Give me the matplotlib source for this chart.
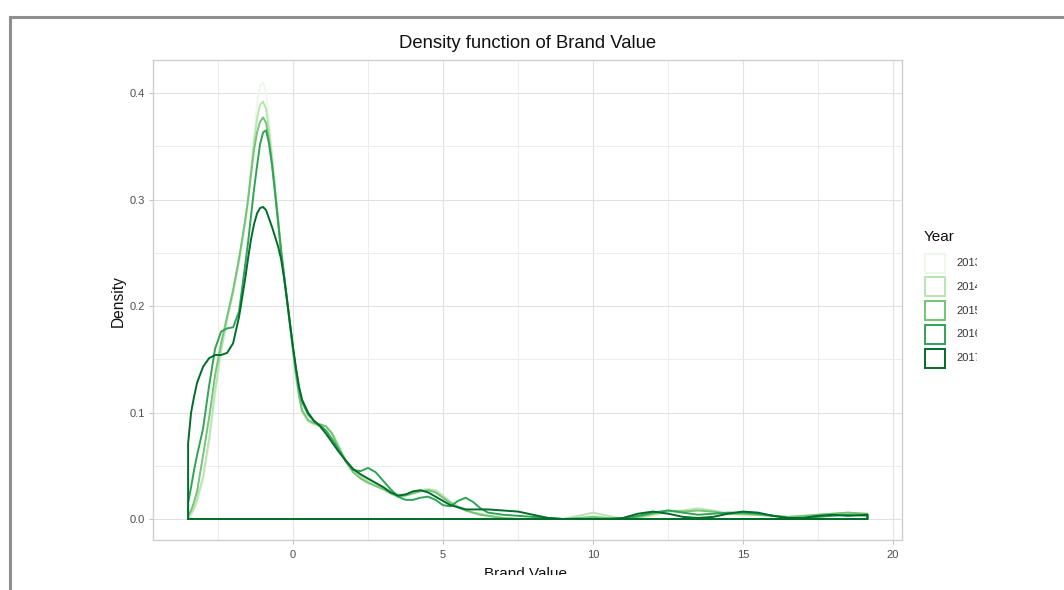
import matplotlib
matplotlib.use("Agg")
import matplotlib.pyplot as plt
from matplotlib.patches import Rectangle
from matplotlib.lines import Line2D
from matplotlib.ticker import MultipleLocator

plt.rcParams['font.family'] = ['Liberation Sans', 'DejaVu Sans']

# Estimated kernel density of brand value, per year, on a shared grid
brand_value = [
    -3.5, -3.4, -3.3, -3.2, -3.0, -2.8, -2.6, -2.4, -2.2, -2.0,
    -1.8, -1.6, -1.5, -1.4, -1.3, -1.2, -1.1, -1.0, -0.9, -0.8,
    -0.7, -0.6, -0.5, -0.4, -0.3, -0.2, -0.1, 0.0, 0.1, 0.2,
    0.3, 0.5, 0.7, 0.9, 1.1, 1.3, 1.5, 1.75, 2.0, 2.25,
    2.5, 2.75, 3.0, 3.25, 3.5, 3.75, 4.0, 4.25, 4.5, 4.75,
    5.0, 5.25, 5.5, 5.75, 6.0, 6.25, 6.5, 7.0, 7.5, 8.0,
    8.5, 9.0, 9.5, 10.0, 10.5, 11.0, 11.5, 12.0, 12.5, 13.0,
    13.5, 14.0, 14.5, 15.0, 15.5, 16.0, 16.5, 17.0, 17.5, 18.0,
    18.5, 19.15,
]

density_2013 = [
    0.000, 0.003, 0.008, 0.015, 0.035, 0.070, 0.115, 0.155, 0.185, 0.210,
    0.240, 0.275, 0.300, 0.330, 0.360, 0.390, 0.407, 0.410, 0.400, 0.375,
    0.345, 0.315, 0.285, 0.255, 0.228, 0.204, 0.180, 0.156, 0.133, 0.114,
    0.100, 0.091, 0.088, 0.087, 0.086, 0.080, 0.069, 0.055, 0.045, 0.039,
    0.035, 0.032, 0.029, 0.025, 0.022, 0.023, 0.025, 0.027, 0.028, 0.026,
    0.021, 0.016, 0.012, 0.009, 0.006, 0.004, 0.003, 0.001, 0.000, 0.000,
    0.000, 0.000, 0.002, 0.003, 0.001, 0.000, 0.001, 0.003, 0.005, 0.006,
    0.008, 0.006, 0.004, 0.003, 0.003, 0.002, 0.002, 0.002, 0.003, 0.004,
    0.005, 0.003,
]

density_2014 = [
    0.002, 0.005, 0.010, 0.018, 0.040, 0.075, 0.120, 0.158, 0.188, 0.213,
    0.243, 0.278, 0.300, 0.328, 0.355, 0.376, 0.389, 0.392, 0.385, 0.365,
    0.340, 0.311, 0.282, 0.253, 0.228, 0.204, 0.180, 0.157, 0.134, 0.115,
    0.101, 0.092, 0.089, 0.088, 0.087, 0.081, 0.070, 0.056, 0.046, 0.040,
    0.036, 0.033, 0.030, 0.026, 0.023, 0.023, 0.025, 0.027, 0.028, 0.027,
    0.022, 0.016, 0.012, 0.009, 0.006, 0.005, 0.003, 0.001, 0.000, 0.000,
    0.000, 0.000, 0.003, 0.006, 0.003, 0.000, 0.001, 0.004, 0.007, 0.008,
    0.010, 0.008, 0.005, 0.004, 0.004, 0.003, 0.002, 0.002, 0.004, 0.005,
    0.006, 0.004,
]

density_2015 = [
    0.003, 0.008, 0.016, 0.026, 0.060, 0.095, 0.135, 0.165, 0.190, 0.215,
    0.245, 0.280, 0.300, 0.324, 0.347, 0.363, 0.373, 0.377, 0.372, 0.355,
    0.333, 0.307, 0.280, 0.252, 0.228, 0.205, 0.181, 0.158, 0.135, 0.116,
    0.102, 0.093, 0.090, 0.089, 0.087, 0.080, 0.068, 0.054, 0.044, 0.038,
    0.034, 0.031, 0.028, 0.024, 0.021, 0.022, 0.024, 0.026, 0.027, 0.025,
    0.020, 0.015, 0.011, 0.008, 0.006, 0.004, 0.003, 0.001, 0.000, 0.000,
    0.000, 0.000, 0.001, 0.002, 0.001, 0.000, 0.002, 0.005, 0.008, 0.007,
    0.008, 0.007, 0.005, 0.005, 0.004, 0.003, 0.002, 0.003, 0.004, 0.005,
    0.006, 0.005,
]

density_2016 = [
    0.015, 0.030, 0.046, 0.060, 0.085, 0.125, 0.160, 0.176, 0.179, 0.180,
    0.195, 0.238, 0.260, 0.285, 0.310, 0.332, 0.352, 0.363, 0.365, 0.352,
    0.332, 0.306, 0.279, 0.251, 0.229, 0.206, 0.183, 0.160, 0.140, 0.122,
    0.110, 0.098, 0.092, 0.088, 0.083, 0.075, 0.066, 0.055, 0.046, 0.045,
    0.048, 0.044, 0.036, 0.028, 0.021, 0.018, 0.018, 0.020, 0.021, 0.018,
    0.013, 0.012, 0.017, 0.020, 0.016, 0.010, 0.006, 0.004, 0.003, 0.002,
    0.001, 0.000, 0.000, 0.000, 0.000, 0.000, 0.003, 0.006, 0.008, 0.006,
    0.004, 0.005, 0.006, 0.006, 0.005, 0.003, 0.001, 0.001, 0.002, 0.003,
    0.004, 0.003,
]

density_2017 = [
    0.071, 0.100, 0.115, 0.128, 0.143, 0.151, 0.154, 0.154, 0.156, 0.165,
    0.190, 0.225, 0.245, 0.263, 0.277, 0.287, 0.292, 0.293, 0.290, 0.282,
    0.274, 0.265, 0.256, 0.244, 0.226, 0.205, 0.183, 0.161, 0.141, 0.124,
    0.112, 0.100, 0.092, 0.087, 0.080, 0.072, 0.064, 0.055, 0.047, 0.042,
    0.038, 0.034, 0.030, 0.025, 0.022, 0.023, 0.026, 0.027, 0.025, 0.021,
    0.017, 0.013, 0.011, 0.009, 0.009, 0.009, 0.009, 0.008, 0.007, 0.004,
    0.001, 0.000, 0.000, 0.000, 0.000, 0.001, 0.005, 0.007, 0.005, 0.002,
    0.001, 0.002, 0.005, 0.007, 0.006, 0.003, 0.001, 0.001, 0.003, 0.004,
    0.003, 0.004,
]

years = ['2013', '2014', '2015', '2016', '2017']
densities = [density_2013, density_2014, density_2015, density_2016, density_2017]
year_colors = ['#edf8e9', '#bae4b3', '#74c476', '#31a354', '#006d2c']

x_ticks = [0, 5, 10, 15, 20]
y_ticks = [0.0, 0.1, 0.2, 0.3, 0.4]
y_tick_labels = ['0.0', '0.1', '0.2', '0.3', '0.4']

W, H = 1064, 590
fig = plt.figure(figsize=(W / 100, H / 100), dpi=100)
fig.patch.set_facecolor('white')


def fx(px):
    return px / W


def fy(py):
    return 1 - py / H


ax = fig.add_axes([fx(153), fy(540), fx(902) - fx(153), fy(60) - fy(540)])
ax.set_facecolor('white')

for year, dens, col in zip(years, densities, year_colors):
    assert len(dens) == len(brand_value)
    # closed outline: curve plus the baseline back to the start
    xs = [brand_value[0]] + brand_value + [brand_value[-1], brand_value[0]]
    ys = [0.0] + dens + [0.0, 0.0]
    ax.plot(xs, ys, color=col, lw=1.4, solid_joinstyle='round', zorder=3)

ax.set_xlim(-4.67, 20.3)
ax.set_ylim(-0.0197, 0.431)
ax.set_xticks(x_ticks)
ax.set_xticklabels([str(t) for t in x_ticks])
ax.set_yticks(y_ticks)
ax.set_yticklabels(y_tick_labels)
ax.xaxis.set_minor_locator(MultipleLocator(2.5))
ax.yaxis.set_minor_locator(MultipleLocator(0.05))

ax.grid(which='major', color='#e1e1e1', lw=0.8, zorder=0)
ax.grid(which='minor', color='#ececec', lw=0.7, zorder=0)
ax.set_axisbelow(True)
for s in ax.spines.values():
    s.set_color('#cfcfcf')
    s.set_linewidth(1.0)

ax.tick_params(axis='both', which='major', length=3, width=0.6, color='#b3b3b3',
               labelsize=8, labelcolor='#4d4d4d')
ax.tick_params(axis='x', which='major', pad=4.5)
ax.tick_params(axis='y', which='major', pad=3)
ax.tick_params(which='minor', length=0)

fig.text(fx(527.5), fy(44), 'Density function of Brand Value', ha='center', va='center',
         fontsize=13.3, color='#111111')
fig.text(fx(118), fy(301), 'Density', ha='center', va='center', rotation=90,
         fontsize=11.2, color='#111111')
fig.text(fx(526), fy(567), 'Brand Value', ha='center', va='top',
         fontsize=11, color='#111111')

# legend: outlined key boxes for each year
fig.text(fx(924), fy(237), 'Year', ha='left', va='center', fontsize=11, color='#111111')
row_step = 23.8
for i, (year, col) in enumerate(zip(years, year_colors)):
    cy = 263 + i * row_step
    fig.add_artist(Rectangle((fx(925), fy(cy + 9.5)), fx(945) - fx(925), fy(cy - 9.5) - fy(cy + 9.5),
                             transform=fig.transFigure, facecolor='white', edgecolor=col,
                             lw=1.4, zorder=4))
    fig.text(fx(956), fy(cy), year, ha='left', va='center', fontsize=8, color='#333333', zorder=4)

# page cut-offs and frame around the figure
fig.add_artist(Rectangle((fx(977), 0), 1 - fx(977), fy(20), transform=fig.transFigure,
                         facecolor='white', edgecolor='none', zorder=20))
fig.add_artist(Rectangle((fx(12), 0), 1 - fx(12), fy(575), transform=fig.transFigure,
                         facecolor='white', edgecolor='none', zorder=20))
fig.add_artist(Line2D([fx(9.5), 1], [fy(16.5), fy(16.5)], transform=fig.transFigure,
                      color='#8f8f8f', lw=2.2, zorder=21))
fig.add_artist(Line2D([fx(9.5), fx(9.5)], [fy(16.5), 0], transform=fig.transFigure,
                      color='#8f8f8f', lw=2.2, zorder=21))

fig.savefig('out.png', dpi=100, facecolor='white')
